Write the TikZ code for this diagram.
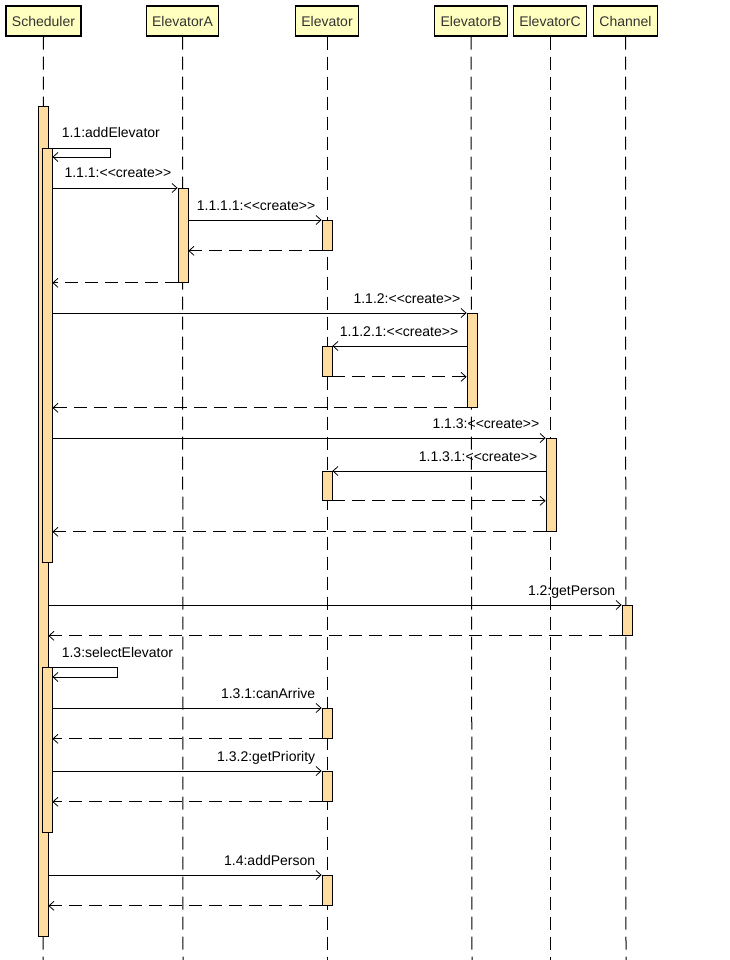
\documentclass[tikz,border=0pt]{standalone}
\usepackage{fontspec}
\setmainfont{Liberation Sans}
\usetikzlibrary{arrows.meta,positioning}
\definecolor{seqhead}{RGB}{255,255,192}
\definecolor{seqbar}{RGB}{255,221,160}
\definecolor{seqtext}{RGB}{51,51,51}
\tikzset{
    seqobj/.style={draw, line width=1.2pt, fill=seqhead, text=seqtext,
        minimum height=30pt, inner xsep=6pt, inner ysep=0pt},
    seqlife/.style={line width=1pt, dash pattern=on 13pt off 7pt},
    seqact/.style={draw, line width=0.8pt, fill=seqbar, minimum width=10pt,
        inner sep=0pt, anchor=north},
    seqmsg/.style={-{Straight Barb[length=5pt,width=9pt]}, line width=0.8pt},
    seqret/.style={seqmsg, dash pattern=on 13pt off 7pt},
    lblr/.style={anchor=base east, inner sep=0pt, xshift=-6pt, yshift=10pt},
    lbls/.style={anchor=base west, inner sep=0pt, xshift=13pt, yshift=10pt}
}

\begin{document}
\begin{tikzpicture}[x=1pt, y=-1pt, font=\fontsize{14}{16}\selectfont]
    \useasboundingbox (0,0) rectangle (730,960);

    % objects
    \node[seqobj] (sched) at (43.5,21) {Scheduler};
    \node[seqobj] (elevA) at (182.5,21) {ElevatorA};
    \node[seqobj] (elev)  at (327,21) {Elevator};
    \node[seqobj] (elevB) at (471,21) {ElevatorB};
    \node[seqobj] (elevC) at (550,21) {ElevatorC};
    \node[seqobj] (chan)  at (625.5,21) {Channel};

    % lifelines
    \foreach \o/\x in {sched/43, elevA/183, elev/327, elevB/472, elevC/550, chan/626} {
        \coordinate (\o end) at (\x,960);
        \draw[seqlife] (\o.south) -- (\o end);
    }

    % activations
    \node[seqact, minimum height=830pt] (schedA) at (43,106) {};
    \node[seqact, minimum height=414pt] (schedB) at (47,148) {};
    \node[seqact, minimum height=165pt] (schedC) at (47,667) {};
    \node[seqact, minimum height=94pt] (elevA1) at (183,188) {};
    \node[seqact, minimum height=30pt] (elev1) at (327,220) {};
    \node[seqact, minimum height=94pt] (elevB1) at (472,313) {};
    \node[seqact, minimum height=30pt] (elev2) at (327,346) {};
    \node[seqact, minimum height=93pt] (elevC1) at (551,438) {};
    \node[seqact, minimum height=29pt] (elev3) at (327,471) {};
    \node[seqact, minimum height=30pt] (chan1) at (627,605) {};
    \node[seqact, minimum height=30pt] (elev4) at (327,708) {};
    \node[seqact, minimum height=30pt] (elev5) at (327,771) {};
    \node[seqact, minimum height=30pt] (elev6) at (327,875) {};

    % 1.1 addElevator
    \draw[seqmsg] (schedB.north -| schedA.east) node[lbls] {1.1:addElevator}
        -- ++(62,0) |- ([yshift=-9pt]schedB.north east);
    \draw[seqmsg] (schedB.east |- elevA1.north) -- (elevA1.north west)
        node[lblr] {1.1.1:<{}<create>{}>};
    \draw[seqmsg] (elevA1.east |- elev1.north) -- (elev1.north west)
        node[lblr] {1.1.1.1:<{}<create>{}>};
    \draw[seqret] (elev1.south west) -- (elevA1.east |- elev1.south);
    \draw[seqret] (elevA1.south west) -- (schedB.east |- elevA1.south);

    \draw[seqmsg] (schedB.east |- elevB1.north) -- (elevB1.north west)
        node[lblr] {1.1.2:<{}<create>{}>};
    \draw[seqmsg] (elevB1.west |- elev2.north) node[lblr, xshift=-2pt] {1.1.2.1:<{}<create>{}>}
        -- (elev2.north east);
    \draw[seqret] (elev2.south east) -- (elevB1.west |- elev2.south);
    \draw[seqret] (elevB1.south west) -- (schedB.east |- elevB1.south);

    \draw[seqmsg] (schedB.east |- elevC1.north) -- (elevC1.north west)
        node[lblr] {1.1.3:<{}<create>{}>};
    \draw[seqmsg] (elevC1.west |- elev3.north) node[lblr, xshift=-2pt] {1.1.3.1:<{}<create>{}>}
        -- (elev3.north east);
    \draw[seqret] (elev3.south east) -- (elevC1.west |- elev3.south);
    \draw[seqret] (elevC1.south west) -- (schedB.east |- elevC1.south);

    % 1.2 getPerson
    \draw[seqmsg] (schedA.east |- chan1.north) -- (chan1.north west)
        node[lblr] {1.2:getPerson};
    \draw[seqret] (chan1.south west) -- (schedA.east |- chan1.south);

    % 1.3 selectElevator
    \draw[seqmsg] (schedC.north -| schedA.east) node[lbls] {1.3:selectElevator}
        -- ++(69,0) |- ([yshift=-10pt]schedC.north east);
    \draw[seqmsg] (schedC.east |- elev4.north) -- (elev4.north west)
        node[lblr] {1.3.1:canArrive};
    \draw[seqret] (elev4.south west) -- (schedC.east |- elev4.south);
    \draw[seqmsg] (schedC.east |- elev5.north) -- (elev5.north west)
        node[lblr] {1.3.2:getPriority};
    \draw[seqret] (elev5.south west) -- (schedC.east |- elev5.south);

    % 1.4 addPerson
    \draw[seqmsg] (schedA.east |- elev6.north) -- (elev6.north west)
        node[lblr] {1.4:addPerson};
    \draw[seqret] (elev6.south west) -- (schedA.east |- elev6.south);
\end{tikzpicture}
\end{document}
